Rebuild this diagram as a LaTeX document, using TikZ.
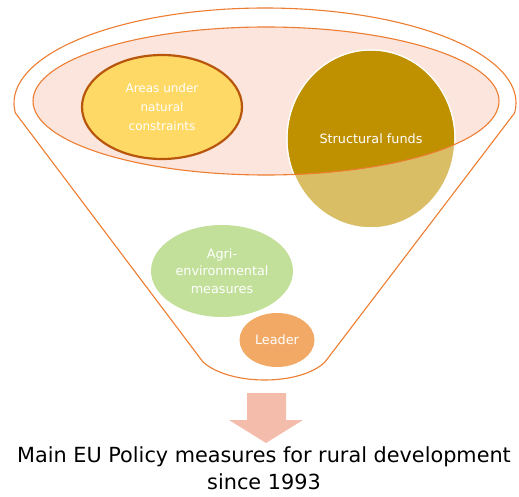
\documentclass[tikz,border=0pt]{standalone}
\usepackage{fontspec}
\setmainfont{DejaVu Sans}
\usetikzlibrary{shapes.geometric}
\definecolor{funnelor}{HTML}{ED7D31}
\definecolor{rimpink}{HTML}{FBE5DD}
\definecolor{areafill}{HTML}{FFD966}
\definecolor{arealine}{HTML}{B8560C}
\definecolor{golddark}{HTML}{BF9000}
\definecolor{goldlight}{HTML}{D9BE66}
\definecolor{agrigreen}{HTML}{C2E09A}
\definecolor{leaderor}{HTML}{F3A966}
\definecolor{arrowpink}{HTML}{F4BCAB}
\tikzset{
  blob/.style={ellipse, inner sep=0pt, text=white, align=center, font=\fontsize{12}{17}\selectfont},
  funnelline/.style={draw=funnelor, line width=1.1pt}
}
\begin{document}
\begin{tikzpicture}[x=1pt, y=-1pt]
\useasboundingbox (0,0) rectangle (519,497);
% funnel outline
\draw[funnelline, line join=round]
  (265,103) ++(6:251 and 95) coordinate (rc)
  arc[start angle=6, end angle=-186, x radius=251, y radius=95] coordinate (lc)
  -- (203,362) coordinate (bl)
  .. controls (230,386) and (300,386) .. (325,362) coordinate (br)
  -- (rc);
% rim ellipse fill
\node[ellipse, fill=rimpink, minimum width=466, minimum height=148, inner sep=0pt] (rim) at (266,101) {};
% structural funds circle
\node[ellipse, fill=goldlight, draw=white, line width=1.5pt, minimum width=168, minimum height=178, inner sep=0pt] (sf) at (371,139) {};
\begin{scope}
  \clip (266,101) ellipse [x radius=233, y radius=74];
  \fill[golddark] (371,139) ellipse [x radius=83.2, y radius=88.2];
\end{scope}
\draw[funnelline] (266,101) ellipse [x radius=233, y radius=74];
\node[blob, font=\fontsize{12.8}{17}\selectfont] (sft) at (sf.center) {Structural funds};
% areas under natural constraints
\node[blob, fill=areafill, draw=arealine, line width=2.2pt, minimum width=160, minimum height=104, font=\fontsize{12}{19}\selectfont] (anc) at (162,107) {Areas under\\natural\\constraints};
% agri-environmental
\node[blob, fill=agrigreen, minimum width=142, minimum height=92, font=\fontsize{12.8}{17.5}\selectfont] (agri) at (222,271) {Agri-\\environmental\\measures};
% leader
\node[blob, fill=leaderor, minimum width=75, minimum height=54, font=\fontsize{12.8}{17}\selectfont] (lead) at (277,340) {Leader};
% arrow
\fill[arrowpink] (247,393) -- (286,393) -- (286,420) -- (303,420) -- (266,443) -- (229,420) -- (247,420) -- cycle;
\coordinate (arr) at (266,420);
% caption
\node[align=center, font=\fontsize{20.8}{27}\selectfont, anchor=north, inner sep=0pt] (cap) at (264,446) {Main EU Policy measures for rural development\\since 1993};
\end{tikzpicture}
\end{document}
